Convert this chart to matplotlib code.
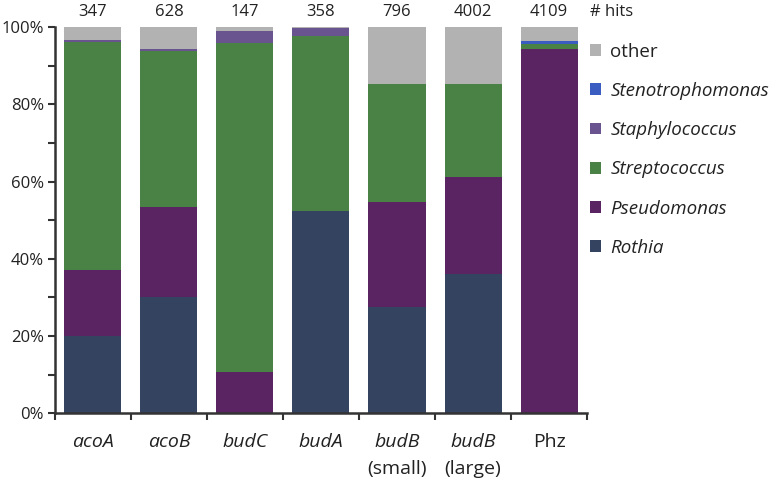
import matplotlib.pyplot as plt
import numpy as np

# =========================
# Data (percent of hits per gene)
# =========================
genes = ["acoA", "acoB", "budC", "budA", "budB", "budB", "Phz"]
gene_notes = ["", "", "", "", "(small)", "(large)", ""]
hits = ["347", "628", "147", "358", "796", "4002", "4109"]

rothia = [20.0, 30.0, 0.0, 52.4, 27.6, 36.2, 0.0]
pseudomonas = [17.0, 23.4, 10.8, 0.0, 27.1, 25.0, 94.4]
streptococcus = [59.2, 40.3, 85.1, 45.3, 30.5, 24.0, 1.3]
staphylococcus = [0.5, 0.6, 3.2, 2.0, 0.0, 0.0, 0.0]
stenotrophomonas = [0.0, 0.0, 0.0, 0.0, 0.0, 0.0, 0.7]
other = [100 - a - b - c - d - e for a, b, c, d, e in
         zip(rothia, pseudomonas, streptococcus, staphylococcus, stenotrophomonas)]

series = [
    ("Rothia", rothia, "#34435f"),
    ("Pseudomonas", pseudomonas, "#5a2463"),
    ("Streptococcus", streptococcus, "#4a8144"),
    ("Staphylococcus", staphylococcus, "#6a5490"),
    ("Stenotrophomonas", stenotrophomonas, "#3b5cc0"),
    ("other", other, "#b2b2b2"),
]

plt.rcParams["font.family"] = ["Open Sans", "DejaVu Sans"]

fig = plt.figure(figsize=(7.83, 4.84), dpi=100)
ax = fig.add_axes([0.0702, 0.146, 0.6795, 0.798])

x = np.arange(len(genes))
bottom = np.zeros(len(genes))
handles = []
for name, vals, color in series:
    b = ax.bar(x, vals, width=0.75, bottom=bottom, color=color, label=name)
    handles.append(b)
    bottom += np.array(vals)

ax.set_xlim(-0.5, len(genes) - 0.5)
ax.set_ylim(0, 100)

# y axis ticks
ax.set_yticks(np.arange(0, 101, 20))
ax.set_yticklabels([f"{v}%" for v in range(0, 101, 20)], fontsize=12, color="#222222")
ax.set_yticks(np.arange(10, 100, 20), minor=True)
ax.tick_params(axis="y", which="both", direction="out", length=5, width=1.5,
               color="#333333", pad=3)

# x ticks at category boundaries
ax.set_xticks(np.arange(-0.5, len(genes), 1))
ax.set_xticklabels([])
ax.tick_params(axis="x", direction="out", length=5, width=1.5, color="#333333")
for i, g in enumerate(genes):
    ax.text(i, -7.5, g, ha="center", va="center", fontsize=14,
            style="normal" if g == "Phz" else "italic", color="#222222")
    if gene_notes[i]:
        ax.text(i, -14.5, gene_notes[i], ha="center", va="center", fontsize=14,
                color="#222222")

for s in ["top", "right"]:
    ax.spines[s].set_visible(False)
for s in ["left", "bottom"]:
    ax.spines[s].set_linewidth(1.8)
    ax.spines[s].set_color("#333333")

# hit counts
for i, h in enumerate(hits):
    ax.text(i, 104, h, ha="center", va="center", fontsize=12, color="#222222")
ax.text(len(genes) - 0.5 + 0.04, 104, "# hits", ha="left", va="center",
        fontsize=12, color="#222222")

leg = ax.legend(handles[::-1], [s[0] for s in series][::-1],
                loc="upper left", bbox_to_anchor=(0.741, 0.931),
                bbox_transform=fig.transFigure, frameon=False,
                fontsize=13.5, handlelength=0.6, handleheight=0.6,
                handletextpad=0.5, labelspacing=1.13, borderpad=0)
for t in leg.get_texts():
    if t.get_text() != "other":
        t.set_style("italic")
    t.set_color("#222222")

plt.savefig("out.png", dpi=100)
plt.close()
